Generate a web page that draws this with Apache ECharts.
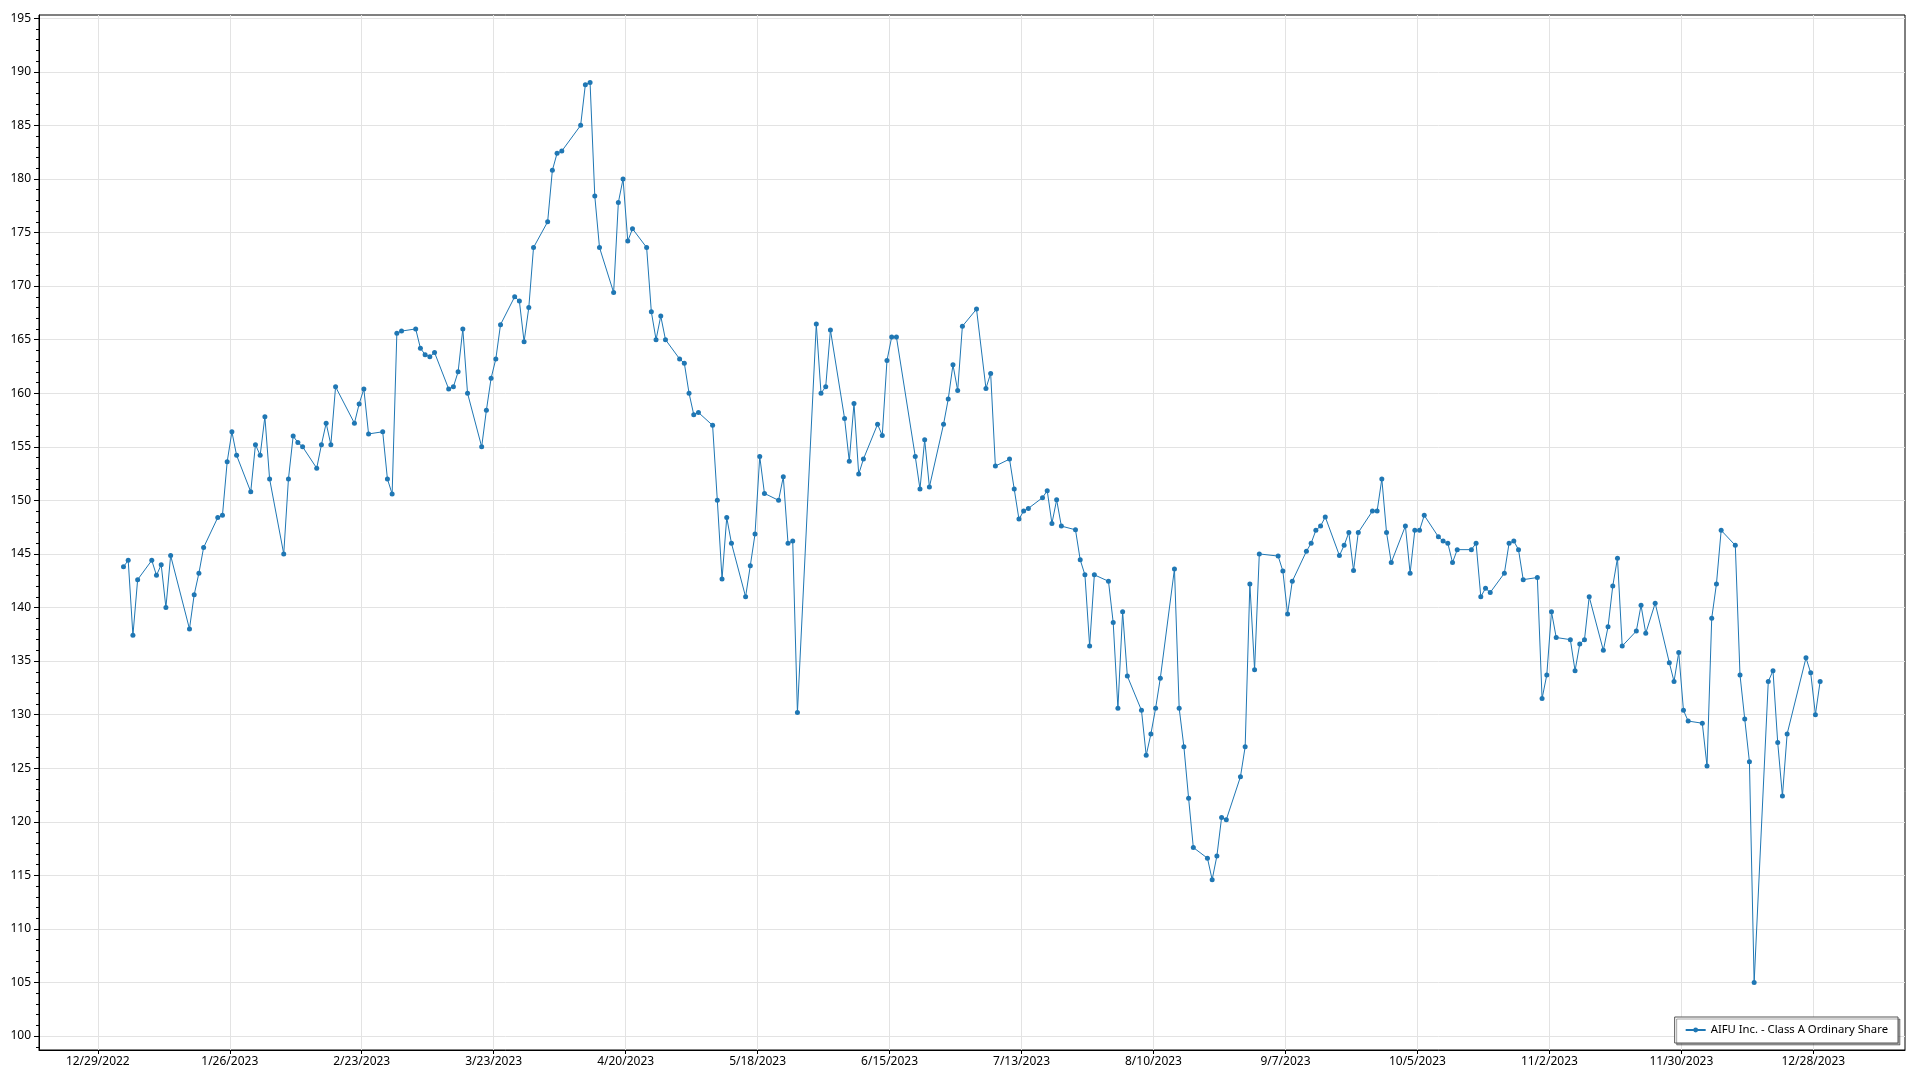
<!DOCTYPE html>
<html>
<head>
<meta charset="utf-8">
<script src="https://cdn.jsdelivr.net/npm/echarts@6/dist/echarts.min.js"></script>
<style>
html,body{margin:0;padding:0;background:#fff;}
#chart{width:1920px;height:1080px;}
</style>
</head>
<body>
<div id="chart"></div>
<script>
const seriesName = 'AIFU Inc. - Class A Ordinary Share';

const tradingDays = [
'2023-01-03','2023-01-04','2023-01-05','2023-01-06','2023-01-09','2023-01-10','2023-01-11','2023-01-12','2023-01-13','2023-01-17','2023-01-18','2023-01-19','2023-01-20','2023-01-23','2023-01-24','2023-01-25','2023-01-26','2023-01-27','2023-01-30','2023-01-31',
'2023-02-01','2023-02-02','2023-02-03','2023-02-06','2023-02-07','2023-02-08','2023-02-09','2023-02-10','2023-02-13','2023-02-14','2023-02-15','2023-02-16','2023-02-17','2023-02-21','2023-02-22','2023-02-23','2023-02-24','2023-02-27','2023-02-28',
'2023-03-01','2023-03-02','2023-03-03','2023-03-06','2023-03-07','2023-03-08','2023-03-09','2023-03-10','2023-03-13','2023-03-14','2023-03-15','2023-03-16','2023-03-17','2023-03-20','2023-03-21','2023-03-22','2023-03-23','2023-03-24','2023-03-27','2023-03-28','2023-03-29','2023-03-30','2023-03-31',
'2023-04-03','2023-04-04','2023-04-05','2023-04-06','2023-04-10','2023-04-11','2023-04-12','2023-04-13','2023-04-14','2023-04-17','2023-04-18','2023-04-19','2023-04-20','2023-04-21','2023-04-24','2023-04-25','2023-04-26','2023-04-27','2023-04-28',
'2023-05-01','2023-05-02','2023-05-03','2023-05-04','2023-05-05','2023-05-08','2023-05-09','2023-05-10','2023-05-11','2023-05-12','2023-05-15','2023-05-16','2023-05-17','2023-05-18','2023-05-19','2023-05-22','2023-05-23','2023-05-24','2023-05-25','2023-05-26','2023-05-30','2023-05-31',
'2023-06-01','2023-06-02','2023-06-05','2023-06-06','2023-06-07','2023-06-08','2023-06-09','2023-06-12','2023-06-13','2023-06-14','2023-06-15','2023-06-16','2023-06-20','2023-06-21','2023-06-22','2023-06-23','2023-06-26','2023-06-27','2023-06-28','2023-06-29','2023-06-30',
'2023-07-03','2023-07-05','2023-07-06','2023-07-07','2023-07-10','2023-07-11','2023-07-12','2023-07-13','2023-07-14','2023-07-17','2023-07-18','2023-07-19','2023-07-20','2023-07-21','2023-07-24','2023-07-25','2023-07-26','2023-07-27','2023-07-28','2023-07-31',
'2023-08-01','2023-08-02','2023-08-03','2023-08-04','2023-08-07','2023-08-08','2023-08-09','2023-08-10','2023-08-11','2023-08-14','2023-08-15','2023-08-16','2023-08-17','2023-08-18','2023-08-21','2023-08-22','2023-08-23','2023-08-24','2023-08-25','2023-08-28','2023-08-29','2023-08-30','2023-08-31',
'2023-09-01','2023-09-05','2023-09-06','2023-09-07','2023-09-08','2023-09-11','2023-09-12','2023-09-13','2023-09-14','2023-09-15','2023-09-18','2023-09-19','2023-09-20','2023-09-21','2023-09-22','2023-09-25','2023-09-26','2023-09-27','2023-09-28','2023-09-29',
'2023-10-02','2023-10-03','2023-10-04','2023-10-05','2023-10-06','2023-10-09','2023-10-10','2023-10-11','2023-10-12','2023-10-13','2023-10-16','2023-10-17','2023-10-18','2023-10-19','2023-10-20','2023-10-23','2023-10-24','2023-10-25','2023-10-26','2023-10-27','2023-10-30','2023-10-31',
'2023-11-01','2023-11-02','2023-11-03','2023-11-06','2023-11-07','2023-11-08','2023-11-09','2023-11-10','2023-11-13','2023-11-14','2023-11-15','2023-11-16','2023-11-17','2023-11-20','2023-11-21','2023-11-22','2023-11-24','2023-11-27','2023-11-28','2023-11-29','2023-11-30',
'2023-12-01','2023-12-04','2023-12-05','2023-12-06','2023-12-07','2023-12-08','2023-12-11','2023-12-12','2023-12-13','2023-12-14','2023-12-15','2023-12-18','2023-12-19','2023-12-20','2023-12-21','2023-12-22','2023-12-26','2023-12-27','2023-12-28','2023-12-29'
];

const closes = [
143.8,144.4,137.4,142.6,144.4,143.0,144.0,140.0,144.85,138.0,141.2,143.2,145.6,148.4,148.6,153.6,156.4,154.2,150.8,155.2,
154.2,157.8,152.0,145.0,152.0,156.0,155.4,155.0,153.0,155.2,157.2,155.2,160.6,157.2,159.0,160.4,156.2,156.4,152.0,
150.6,165.6,165.8,166.0,164.2,163.6,163.4,163.8,160.4,160.6,162.0,166.0,160.0,155.0,158.4,161.4,163.2,166.4,169.0,168.6,164.8,168.0,173.6,
176.0,180.8,182.4,182.6,185.0,188.8,189.0,178.4,173.6,169.4,177.8,180.0,174.2,175.35,173.6,167.6,165.0,167.2,165.0,
163.2,162.8,160.0,158.0,158.2,157.0,150.0,142.65,148.4,146.0,141.0,143.9,146.85,154.1,150.65,150.0,152.2,146.0,146.2,130.2,166.45,160.0,
160.6,165.9,157.65,153.65,159.05,152.45,153.85,157.1,156.05,163.05,165.25,165.25,154.1,151.05,155.65,151.25,157.1,159.45,162.65,160.25,166.25,
167.85,160.45,161.85,153.2,153.85,151.05,148.25,149.0,149.25,150.25,150.9,147.85,150.05,147.6,147.25,144.45,143.05,136.4,143.05,142.45,
138.6,130.6,139.6,133.6,130.4,126.2,128.2,130.6,133.4,143.6,130.6,127.0,122.2,117.6,116.6,114.6,116.8,120.4,120.2,124.2,127.0,142.2,134.2,
145.0,144.8,143.4,139.4,142.45,145.25,146.0,147.2,147.6,148.45,144.85,145.8,147.0,143.45,147.0,149.0,149.0,152.0,147.0,144.2,
147.6,143.2,147.2,147.2,148.6,146.6,146.2,146.0,144.2,145.4,145.4,146.0,141.0,141.8,141.4,143.2,146.0,146.2,145.4,142.6,142.8,131.5,
133.7,139.6,137.2,137.0,134.1,136.6,137.0,141.0,136.0,138.2,142.0,144.6,136.4,137.8,140.2,137.6,140.4,134.85,133.1,135.8,130.4,
129.4,129.2,125.2,139.0,142.2,147.2,145.8,133.7,129.6,125.6,105.0,133.1,134.1,127.4,122.4,128.2,135.3,133.9,130.0,133.1
];

const xTickLabels = ['12/29/2022','1/26/2023','2/23/2023','3/23/2023','4/20/2023','5/18/2023','6/15/2023','7/13/2023','8/10/2023','9/7/2023','10/5/2023','11/2/2023','11/30/2023','12/28/2023'];
const yTickLabels = [100,105,110,115,120,125,130,135,140,145,150,155,160,165,170,175,180,185,190,195];

// axis ranges
const X_MIN_DATE = '2022-12-16T12:30';
const X_MAX_DATE = '2024-01-16T11:00';
const POINT_TIME = '10:48'; // time of day at which each daily point is plotted
const Y_MIN = 98.7;
const Y_MAX = 195.3;

const DAY = 86400000;
const ORIGIN = Date.UTC(2022, 11, 29);
function isoToDay(s) {
  const [datePart, timePart] = s.split('T');
  const [y, m, d] = datePart.split('-').map(Number);
  let t = Date.UTC(y, m - 1, d);
  if (timePart) { const [hh, mm] = timePart.split(':').map(Number); t += (hh * 60 + mm) * 60000; }
  return (t - ORIGIN) / DAY;
}
function mdyToDay(s) {
  const [m, d, y] = s.split('/').map(Number);
  return (Date.UTC(y, m - 1, d) - ORIGIN) / DAY;
}
function dayToMdy(v) {
  const dt = new Date(ORIGIN + Math.round(v) * DAY);
  return (dt.getUTCMonth() + 1) + '/' + dt.getUTCDate() + '/' + dt.getUTCFullYear();
}

const xTickPos = xTickLabels.map(mdyToDay);
const yMinorTicks = [];
for (let v = Math.ceil(Y_MIN); v <= Y_MAX; v++) yMinorTicks.push(v);

const seriesData = tradingDays.map((d, i) => [isoToDay(d + 'T' + POINT_TIME), closes[i]]);

const FONT = 'Noto Sans';
const chart = echarts.init(document.getElementById('chart'), null, {renderer: 'canvas'});
chart.setOption({
  animation: false,
  backgroundColor: '#ffffff',
  grid: {
    left: 39, top: 15, right: 15, bottom: 30,
    show: true, borderColor: '#000', borderWidth: 1, backgroundColor: 'transparent',
    containLabel: false
  },
  legend: {
    show: true,
    data: [seriesName],
    right: 22, bottom: 37,
    orient: 'horizontal',
    backgroundColor: '#ffffff',
    borderColor: '#555555',
    borderWidth: 1,
    borderRadius: 0,
    padding: [6, 10, 6, 10],
    itemWidth: 20,
    itemHeight: 6,
    shadowColor: 'rgba(0,0,0,0.35)',
    shadowOffsetX: 2,
    shadowOffsetY: 2,
    shadowBlur: 0,
    textStyle: {color: '#000', fontSize: 11.3, fontFamily: FONT, lineHeight: 14},
    selectedMode: false
  },
  xAxis: {
    type: 'value',
    min: isoToDay(X_MIN_DATE),
    max: isoToDay(X_MAX_DATE),
    axisLine: {show: true, onZero: false, lineStyle: {color: '#000', width: 1}},
    axisTick: {show: true, inside: false, length: 4, customValues: xTickPos, lineStyle: {color: '#000'}},
    axisLabel: {
      show: true, customValues: xTickPos, margin: 6,
      color: '#000', fontSize: 12, fontFamily: FONT,
      formatter: v => dayToMdy(v)
    },
    splitLine: {show: true, lineStyle: {color: '#e3e3e3', width: 1}}
  },
  yAxis: [
    {
      type: 'value',
      min: Y_MIN, max: Y_MAX,
      axisLine: {show: true, onZero: false, lineStyle: {color: '#000', width: 1}},
      axisTick: {show: true, inside: false, length: 5, customValues: yTickLabels, lineStyle: {color: '#000'}},
      axisLabel: {show: true, customValues: yTickLabels, margin: 8, color: '#000', fontSize: 12, fontFamily: FONT},
      splitLine: {show: true, lineStyle: {color: '#e3e3e3', width: 1}}
    },
    {
      type: 'value',
      min: Y_MIN, max: Y_MAX,
      position: 'left', offset: 0,
      axisLine: {show: false, onZero: false},
      axisTick: {show: true, inside: false, length: 3, customValues: yMinorTicks, lineStyle: {color: '#000'}},
      axisLabel: {show: false},
      splitLine: {show: false}
    }
  ],
  series: [{
    name: seriesName,
    type: 'line',
    xAxisIndex: 0, yAxisIndex: 0,
    data: seriesData,
    symbol: 'circle',
    symbolSize: 5,
    showSymbol: true,
    showAllSymbol: true,
    lineStyle: {color: '#1f77b4', width: 1},
    itemStyle: {color: '#1f77b4'},
    emphasis: {disabled: true},
    clip: true
  }]
});
</script>
</body>
</html>
